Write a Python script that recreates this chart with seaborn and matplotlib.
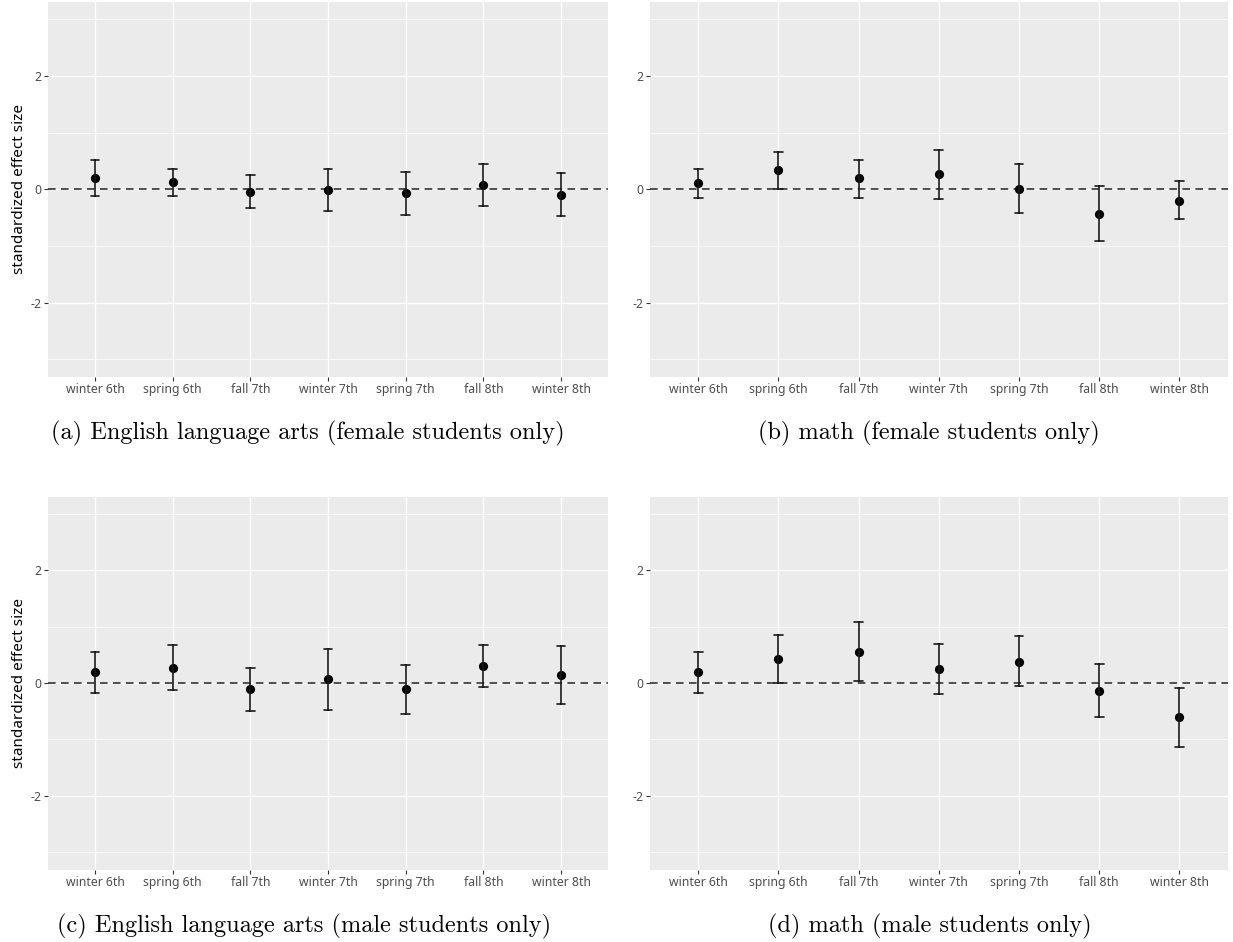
import numpy as np
import pandas as pd
import matplotlib
matplotlib.use("Agg")
import matplotlib.pyplot as plt
import seaborn as sns
from matplotlib.ticker import FixedLocator

# Survey waves on the x axis
terms = ["winter 6th", "spring 6th", "fall 7th", "winter 7th",
         "spring 7th", "fall 8th", "winter 8th"]

# (a) English language arts, female students
ela_f_est = [0.19, 0.12, -0.05, -0.02, -0.07, 0.08, -0.10]
ela_f_lo = [-0.12, -0.12, -0.34, -0.39, -0.45, -0.29, -0.48]
ela_f_hi = [0.51, 0.36, 0.25, 0.36, 0.31, 0.44, 0.29]

# (b) math, female students
math_f_est = [0.11, 0.33, 0.19, 0.26, 0.01, -0.44, -0.20]
math_f_lo = [-0.16, 0.01, -0.15, -0.18, -0.42, -0.92, -0.53]
math_f_hi = [0.36, 0.65, 0.52, 0.70, 0.45, 0.05, 0.14]

# (c) English language arts, male students
ela_m_est = [0.19, 0.27, -0.11, 0.08, -0.11, 0.31, 0.14]
ela_m_lo = [-0.17, -0.12, -0.49, -0.47, -0.54, -0.07, -0.37]
ela_m_hi = [0.56, 0.67, 0.27, 0.61, 0.32, 0.68, 0.65]

# (d) math, male students
math_m_est = [0.19, 0.42, 0.56, 0.25, 0.38, -0.14, -0.61]
math_m_lo = [-0.17, 0.01, 0.04, -0.20, -0.06, -0.61, -1.14]
math_m_hi = [0.55, 0.85, 1.08, 0.70, 0.84, 0.34, -0.08]

captions = ["(a) English language arts (female students only)",
            "(b) math (female students only)",
            "(c) English language arts (male students only)",
            "(d) math (male students only)"]

panels = [(ela_f_est, ela_f_lo, ela_f_hi),
          (math_f_est, math_f_lo, math_f_hi),
          (ela_m_est, ela_m_lo, ela_m_hi),
          (math_m_est, math_m_lo, math_m_hi)]

sns.set_theme(style="darkgrid", rc={
    "axes.facecolor": "#EBEBEB",
    "grid.color": "white",
    "axes.edgecolor": "#EBEBEB",
    "axes.unicode_minus": False,
})
plt.rcParams["font.family"] = ["Noto Sans", "DejaVu Sans"]

W, H = 1233, 942
fig = plt.figure(figsize=(W / 100, H / 100), dpi=100)

# panel boxes in pixels: (left, right, top, bottom)
boxes = [(48.4, 607.6, 1.7, 376.7),
         (650.0, 1227.5, 1.7, 376.7),
         (48.4, 607.6, 496.7, 869.5),
         (650.0, 1227.5, 496.7, 869.5)]
cap_pos = [(308, 433), (929, 433), (304, 926), (930, 926)]

for i, ((est, lo, hi), (l, r, t, b)) in enumerate(zip(panels, boxes)):
    ax = fig.add_axes([l / W, 1 - b / H, (r - l) / W, (b - t) / H])
    rows = []
    for term, e, lw_, up in zip(terms, est, lo, hi):
        rows += [(term, lw_), (term, e), (term, up)]
    df = pd.DataFrame(rows, columns=["term", "effect"])

    ax.axhline(0, color="#222222", lw=1.1, ls=(0, (5, 3.5)), zorder=2)
    sns.pointplot(data=df, x="term", y="effect", order=terms, ax=ax,
                  estimator="median",
                  errorbar=lambda v: (v.min(), v.max()),
                  color="black", linestyle="none", marker="o",
                  markersize=4.6, capsize=0.11,
                  err_kws={"linewidth": 1.2, "color": "#1A1A1A"})

    ax.set_xlim(-0.6, len(terms) - 0.4)
    ax.set_ylim(-3.3075, 3.3075)
    ax.yaxis.set_major_locator(FixedLocator([-2, 0, 2]))
    ax.set_yticklabels(["-2", "0", "2"])
    ax.yaxis.set_minor_locator(FixedLocator([-3, -1, 1, 3]))
    ax.grid(which="major", color="white", lw=1.0)
    ax.grid(which="minor", color="white", lw=0.5)
    ax.xaxis.grid(True, which="major", color="white", lw=1.0)
    for s in ax.spines.values():
        s.set_visible(False)
    ax.tick_params(axis="both", which="major", length=2.75, width=0.8,
                   color="#333333", labelcolor="#4D4D4D", labelsize=8.8,
                   pad=2, left=True, bottom=True)
    ax.tick_params(which="minor", length=0)
    ax.set_xlabel("")
    if i % 2 == 0:
        ax.set_ylabel("standardized effect size", fontsize=11, color="black",
                      labelpad=3)
    else:
        ax.set_ylabel("")

    cx, cy = cap_pos[i]
    fig.text(cx / W, 1 - cy / H, captions[i], family="cmr10", fontsize=17.5,
             ha="center", va="center", color="black")

fig.savefig("out.png", dpi=100)
